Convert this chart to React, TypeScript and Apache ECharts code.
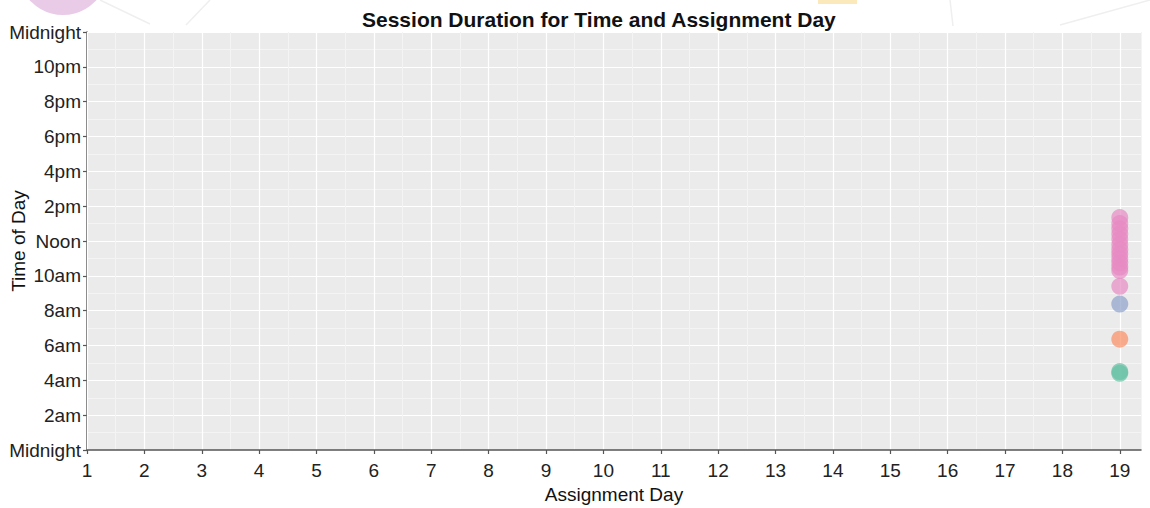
import React, { useEffect, useRef } from 'react';
import * as echarts from 'echarts';

const chartTitle = 'Session Duration for Time and Assignment Day';
const xAxisName = 'Assignment Day';
const yAxisName = 'Time of Day';

const dayTicks = [1, 2, 3, 4, 5, 6, 7, 8, 9, 10, 11, 12, 13, 14, 15, 16, 17, 18, 19];
const hourTickValues = [0, 2, 4, 6, 8, 10, 12, 14, 16, 18, 20, 22, 24];
const hourTickLabels = ['Midnight', '2am', '4am', '6am', '8am', '10am', 'Noon', '2pm', '4pm', '6pm', '8pm', '10pm', 'Midnight'];

const seriesNames = ['Group 1', 'Group 2', 'Group 3', 'Group 4'];
const seriesColors = ['#66c2a5', '#fc8d62', '#8da0cb', '#e78ac3'];

const group1Days = [19, 19];
const group1Hours = [4.4, 4.5];
const group2Days = [19];
const group2Hours = [6.36];
const group3Days = [19];
const group3Hours = [8.38];
const group4Days = [19, 19, 19, 19, 19, 19, 19, 19, 19, 19, 19, 19, 19];
const group4Hours = [9.4, 10.3, 10.5, 10.75, 11.0, 11.25, 11.5, 11.8, 12.1, 12.4, 12.7, 13.0, 13.35];

const seriesDays = [group1Days, group2Days, group3Days, group4Days];
const seriesHours = [group1Hours, group2Hours, group3Hours, group4Hours];

const FONT = '"Liberation Sans", Arial, Helvetica, sans-serif';

export default function App() {
  const ref = useRef<HTMLDivElement>(null);

  useEffect(() => {
    if (!ref.current) return;
    const chart = echarts.init(ref.current, undefined, { renderer: 'svg' });
    const xMin = 1;
    const xMax = 19.37;

    const option: any = {
      animation: false,
      backgroundColor: '#ffffff',
      title: {
        text: chartTitle,
        left: 357,
        top: 4,
        textStyle: { fontFamily: FONT, fontSize: 21, fontWeight: 'bold', color: '#111' },
      },
      graphic: [
        { type: 'circle', z: -10, shape: { cx: 63, cy: -30, r: 45 }, style: { fill: '#e9cbe8' } },
        { type: 'rect', z: -10, shape: { x: 818, y: 0, width: 39, height: 4 }, style: { fill: '#fbe9bb' } },
        { type: 'line', z: -10, shape: { x1: 100, y1: 0, x2: 150, y2: 24 }, style: { stroke: '#efefef', lineWidth: 1.5 } },
        { type: 'line', z: -10, shape: { x1: 210, y1: 0, x2: 186, y2: 25 }, style: { stroke: '#efefef', lineWidth: 1.5 } },
        { type: 'line', z: -10, shape: { x1: 950, y1: 0, x2: 953, y2: 26 }, style: { stroke: '#efefef', lineWidth: 1.5 } },
        { type: 'line', z: -10, shape: { x1: 1060, y1: 25, x2: 1150, y2: 0 }, style: { stroke: '#efefef', lineWidth: 1.5 } },
      ],
      grid: {
        left: 87,
        right: 9,
        top: 32,
        bottom: 58,
        show: true,
        backgroundColor: '#ebebeb',
        borderWidth: 0,
        containLabel: false,
        outerBoundsMode: 'none',
      },
      xAxis: [
        {
          type: 'value',
          position: 'bottom',
          min: xMin,
          max: xMax,
          interval: 1,
          name: xAxisName,
          nameLocation: 'middle',
          nameGap: 35,
          nameMoveOverlap: false,
          nameTextStyle: { fontFamily: FONT, fontSize: 19, color: '#111' },
          axisLine: { show: true, onZero: false, lineStyle: { color: '#555', width: 1.5 } },
          axisTick: { show: true, length: 4, customValues: dayTicks, lineStyle: { color: '#555', width: 1.2 } },
          axisLabel: {
            customValues: dayTicks,
            margin: 11,
            fontFamily: FONT,
            fontSize: 19,
            color: '#222',
          },
          splitLine: { show: true, lineStyle: { color: '#ffffff', width: 1.2 } },
          z: 5,
        },
        {
          type: 'value',
          position: 'bottom',
          min: xMin,
          max: xMax,
          interval: 0.5,
          axisLine: { show: false },
          axisTick: { show: false },
          axisLabel: { show: false },
          splitLine: { show: true, lineStyle: { color: '#f4f4f4', width: 1 } },
          z: 1,
        },
      ],
      yAxis: {
        type: 'value',
        min: 0,
        max: 24,
        interval: 2,
        name: yAxisName,
        nameLocation: 'middle',
        nameGap: 59,
        nameRotate: 90,
        nameMoveOverlap: false,
        nameTextStyle: { fontFamily: FONT, fontSize: 19, color: '#111' },
        axisLine: { show: true, lineStyle: { color: '#555', width: 1.5 } },
        axisTick: { show: true, length: 4, lineStyle: { color: '#555', width: 1.2 } },
        axisLabel: {
          margin: 6,
          fontFamily: FONT,
          fontSize: 19,
          color: '#222',
          formatter: (v: number) => {
            const i = hourTickValues.indexOf(v);
            return i >= 0 ? hourTickLabels[i] : '';
          },
        },
        splitLine: { show: true, lineStyle: { color: '#ffffff', width: 1.2 } },
        minorTick: { show: false, splitNumber: 2 },
        minorSplitLine: { show: true, lineStyle: { color: '#f4f4f4', width: 1 } },
      },
      series: seriesNames.map((name, i) => ({
        name,
        type: 'scatter',
        xAxisIndex: 0,
        symbolSize: 17,
        itemStyle: { color: seriesColors[i], opacity: 0.7 },
        data: seriesDays[i].map((d, j) => [d, seriesHours[i][j]]),
        z: 10,
      })),
    };

    chart.setOption(option);
    return () => chart.dispose();
  }, []);

  return (
    <div
      ref={ref}
      style={{ position: 'fixed', left: 0, top: 0, width: 1150, height: 508 }}
    />
  );
}
